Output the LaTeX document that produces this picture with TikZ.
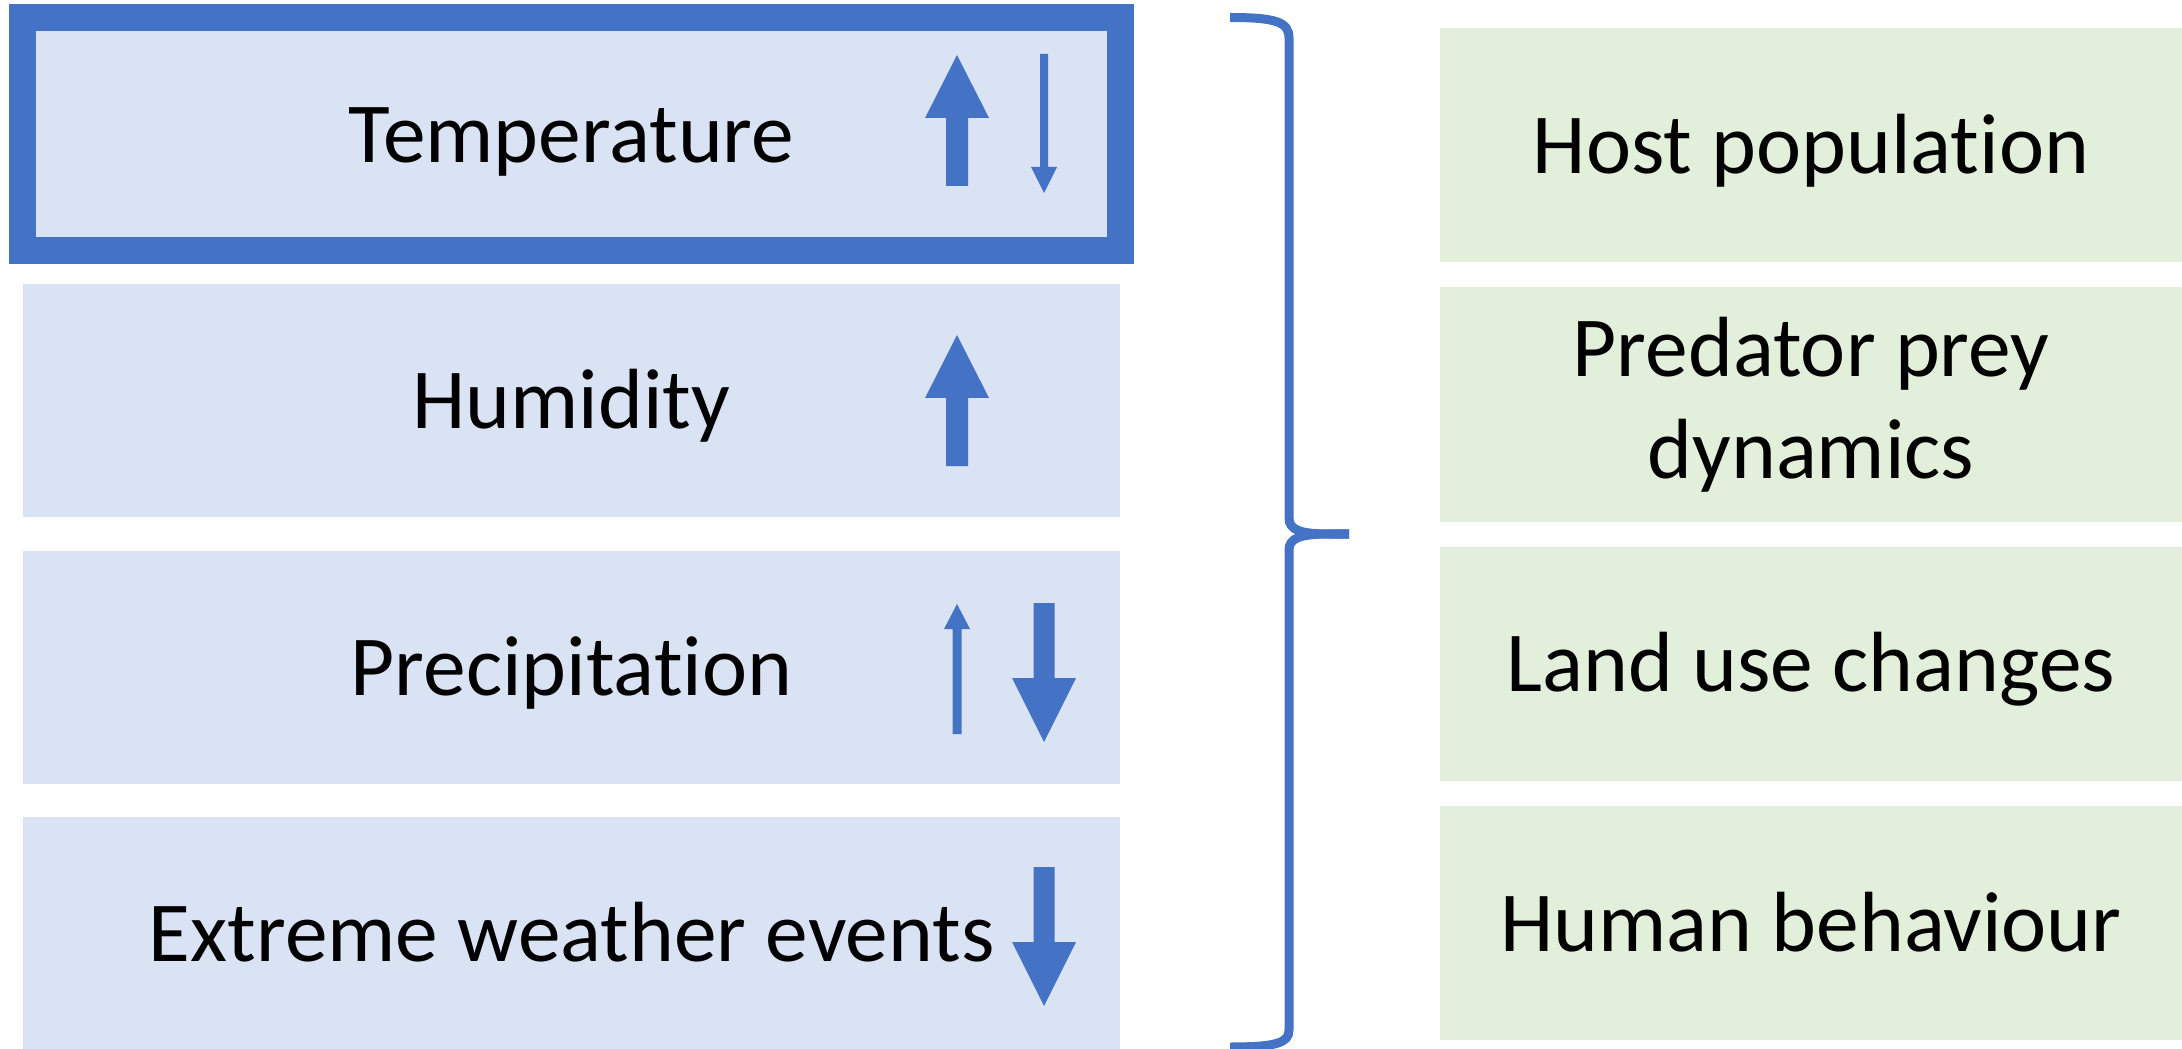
\documentclass[tikz,border=0pt]{standalone}
\usepackage{fontspec}
\setmainfont[Ligatures=NoCommon]{Carlito}
\usetikzlibrary{positioning}

\definecolor{accblue}{HTML}{4472C4}
\definecolor{boxblue}{HTML}{DAE3F3}
\definecolor{boxgreen}{HTML}{E2EFDA}

\begin{document}
\begin{tikzpicture}[x=0.01cm, y=-0.01cm,
  bigfont/.style={font=\fontsize{24.3}{29}\selectfont},
  factor/.style={rectangle, fill=boxblue, minimum width=10.97cm, minimum height=2.33cm,
    inner sep=0pt, outer sep=0pt, bigfont, text height=0.56cm, text depth=0pt},
  driver/.style={rectangle, fill=boxgreen, minimum width=7.42cm, minimum height=2.34cm,
    inner sep=0pt, outer sep=0pt, bigfont, align=center},
  onecap/.style={text height=0.56cm, text depth=0pt},
  % block arrows, tip at the origin
  bigup/.pic={\fill[accblue] (0,0) -- (32,63) -- (11,63) -- (11,131) -- (-11,131) -- (-11,63) -- (-32,63) -- cycle;},
  bigdown/.pic={\fill[accblue] (0,0) -- (32,-64) -- (10.5,-64) -- (10.5,-139) -- (-10.5,-139) -- (-10.5,-64) -- (-32,-64) -- cycle;},
  thinup/.pic={\fill[accblue] (0,0) -- (13,25) -- (4.5,25) -- (4.5,130) -- (-4.5,130) -- (-4.5,25) -- (-13,25) -- cycle;},
  thindown/.pic={\fill[accblue] (0,0) -- (13,-26) -- (4,-26) -- (4,-139) -- (-4,-139) -- (-4,-26) -- (-13,-26) -- cycle;}]

\useasboundingbox (0,0) rectangle (2182,1049);

% climate factors
\node[factor, draw=accblue, line width=0.27cm] (temp) at (571.5,134) {Temperature};
\node[factor, below=0.335cm of temp] (humid) {Humidity};
\node[factor, below=0.335cm of humid] (precip) {Precipitation};
\node[factor, below=0.335cm of precip] (extreme) {Extreme weather events};

\pic at (957,55) {bigup};
\pic at (1044,193) {thindown};
\pic at (957,335) {bigup};
\pic at (957,604) {thinup};
\pic at (1044,742) {bigdown};
\pic at (1044,1006) {bigdown};

% other drivers
\node[driver, onecap] (host) at (1811,145) {Host population};
\node[driver, below=0.253cm of host] (pred) {Predator prey\\dynamics};
\node[driver, onecap, below=0.253cm of pred] (land) {Land use changes};
\node[driver, onecap, below=0.253cm of land] (human) {Human behaviour};

% brace
\coordinate (brtop) at (1230,17.5);
\coordinate (brtip) at (1349,534);
\coordinate (brbot) at (1230,1047);
\draw[accblue, line width=0.09cm] (brtop) .. controls (1276,17.5) and (1289,22) .. (1289,38)
  -- (1289,518) .. controls (1289,530) and (1300,534) .. (1330,534) -- (brtip);
\draw[accblue, line width=0.09cm] (brtip) -- (1330,534) .. controls (1300,534) and (1289,538) .. (1289,550)
  -- (1289,1030) .. controls (1289,1043) and (1276,1047) .. (brbot);
\end{tikzpicture}
\end{document}
